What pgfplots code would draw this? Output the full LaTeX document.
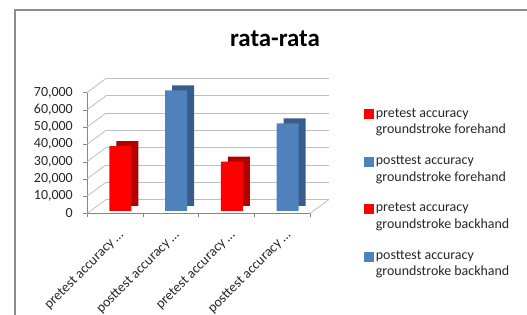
\documentclass[border=0pt]{standalone}
\usepackage{fontspec}
\setmainfont{Carlito}
\usepackage{pgfplots}
\usepackage{pgfplotstable}
\pgfplotsset{compat=1.18}
\definecolor{redfront}{HTML}{FF0000}
\definecolor{redside}{HTML}{B00000}
\definecolor{bluefront}{HTML}{4F81BD}
\definecolor{blueside}{HTML}{385D8A}
\definecolor{gridgray}{HTML}{BFBFBF}
\definecolor{axisgray}{HTML}{868686}
\definecolor{framegray}{HTML}{8C8C8C}
\definecolor{txt}{HTML}{262626}
\pgfplotstableread{
x y
0 37.6
2 28.5
}\reddata
\pgfplotstableread{
x y
1 69.8
3 50.7
}\bluedata
\begin{document}
\begin{tikzpicture}
\path[use as bounding box] (0,0) rectangle (527bp,315bp);
\draw[framegray, line width=1.5bp] (15bp,0) -- (15bp,305bp) -- (527bp,305bp);
\node[anchor=base, text=black, font=\bfseries\fontsize{25}{30}\selectfont] at (275bp,268.3bp) {rata-rata};
\begin{axis}[
  scale only axis, width=223bp, height=121bp,
  at={(87bp,101.5bp)}, anchor=south west,
  xmin=-0.5, xmax=3.5, ymin=0, ymax=70, clip=false,
  axis x line*=bottom, axis y line*=left,
  axis line style={draw=axisgray, -},
  ytick={0,10,...,70},
  yticklabels={0,{10,000},{20,000},{30,000},{40,000},{50,000},{60,000},{70,000}},
  ymajorgrids,
  major grid style={draw=gridgray, line width=0.8bp, xshift=19bp, yshift=14bp},
  tick align=outside,
  major tick length=4bp,
  y tick style={draw=axisgray},
  xtick={0,1,2,3},
  xticklabels={pretest accuracy …,posttest accuracy …,pretest accuracy …,posttest accuracy …},
  x tick style={draw=none},
  extra x ticks={-0.5,0.5,1.5,2.5,3.5},
  extra x tick labels={},
  extra x tick style={x tick style={draw=axisgray}, xmajorgrids=false},
  ticklabel style={font=\fontsize{14}{16}\selectfont, text=txt},
  yticklabel style={anchor=east, inner sep=0pt, xshift=-10bp},
  xticklabel style={rotate=45, anchor=north east, inner sep=0pt, xshift=-6bp, yshift=-10bp},
  legend style={at={(1.23,0.905)}, anchor=north west, draw=none, fill=none,
    font=\fontsize{14}{16.7}\selectfont, text=txt, row sep=16.5bp,
    cells={align=left, anchor=west}},
  legend image code/.code={},
]
\pgfplotsinvokeforeach{0,10,...,70}{
  \draw[gridgray, line width=0.8bp] (axis cs:-0.5,#1) -- ++(19bp,14bp);
}
\draw[gridgray, line width=0.8bp] (axis cs:3.5,0) -- ++(19bp,14bp);
\addplot[ybar, bar width=22bp, bar shift=0pt, fill=redside, draw=none, xshift=12.5bp, yshift=7.5bp, forget plot] table[x=x,y=y] {\reddata};
\addplot[ybar, bar width=22bp, bar shift=0pt, fill=redfront, draw=none, xshift=5.5bp, yshift=2.5bp, forget plot] table[x=x,y=y] {\reddata};
\addplot[ybar, bar width=22bp, bar shift=0pt, fill=blueside, draw=none, xshift=12.5bp, yshift=7.5bp, forget plot] table[x=x,y=y] {\bluedata};
\addplot[ybar, bar width=22bp, bar shift=0pt, fill=bluefront, draw=none, xshift=5.5bp, yshift=2.5bp, forget plot] table[x=x,y=y] {\bluedata};
\addlegendimage{legend image code/.code={\fill[redfront] (0bp,3bp) rectangle (9bp,12bp);}}
\addlegendentry{pretest accuracy\\groundstroke forehand}
\addlegendimage{legend image code/.code={\fill[bluefront] (0bp,3bp) rectangle (9bp,12bp);}}
\addlegendentry{posttest accuracy\\groundstroke forehand}
\addlegendimage{legend image code/.code={\fill[redfront] (0bp,3bp) rectangle (9bp,12bp);}}
\addlegendentry{pretest accuracy\\groundstroke backhand}
\addlegendimage{legend image code/.code={\fill[bluefront] (0bp,3bp) rectangle (9bp,12bp);}}
\addlegendentry{posttest accuracy\\groundstroke backhand}
\end{axis}
\end{tikzpicture}
\end{document}
